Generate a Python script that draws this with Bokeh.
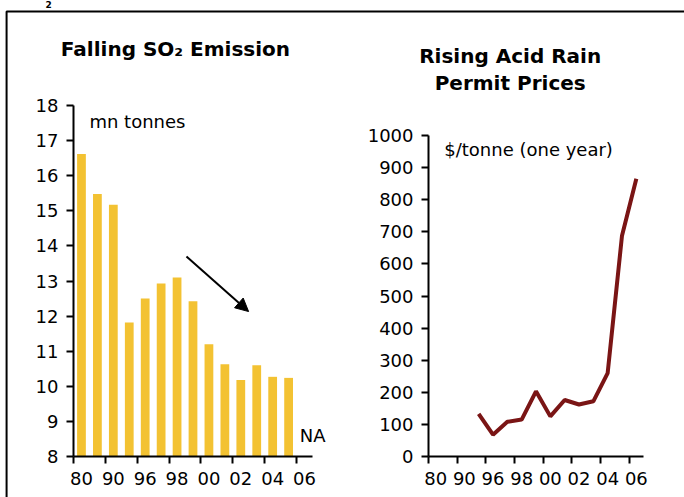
from bokeh.plotting import figure
from bokeh.models import (Range1d, FixedTicker, Label, Arrow, NormalHead, BoxAnnotation, LinearAxis)
from bokeh.embed import file_html
from bokeh.resources import INLINE

# ---- data ----
years = ["80", "85", "90", "95", "96", "97", "98", "99", "00", "01", "02", "03", "04", "05", "06"]
so2_mn_tonnes = [16.62, 15.48, 15.17, 11.82, 12.5, 12.93, 13.1, 12.42, 11.2, 10.63, 10.18, 10.6, 10.27, 10.24, None]
price_years = ["95", "96", "97", "98", "99", "00", "01", "02", "03", "04", "05", "06"]
permit_price = [133, 68, 108, 115, 203, 125, 176, 162, 172, 260, 688, 865]
x_tick_labels = ["80", "90", "96", "98", "00", "02", "04", "06"]
so2_ticks = list(range(8, 19))
price_ticks = list(range(0, 1001, 100))

# ---- layout constants (pixels on the 684x497 canvas) ----
W, H = 684, 497
FONT = "DejaVu Sans"
BAR = "#F3C232"
LINE = "#7A1515"
TICK_FS = "18px"
LAB_FS = "18px"
TITLE_FS = "20px"

n = len(years)


def xrng(px0, px1, d0, d1):
    u = (d1 - d0) / (px1 - px0)
    return Range1d(d0 - px0 * u, d1 + (W - px1) * u)


def yrng(py_bottom, py_top, d0, d1):
    # py measured from the top of the canvas; d0 sits at py_bottom, d1 at py_top
    u = (d1 - d0) / (py_bottom - py_top)
    return Range1d(d0 - (H - py_bottom) * u, d1 + py_top * u)


# left panel: x 73..312, y 8 at 456 .. 18 at 105
L_x = xrng(73, 312, 0, n)
L_y = yrng(456, 105, 8, 18)
# right panel: x 428..643, y 0 at 456 .. 1000 at 135
R_x = xrng(428, 643, 0, n)
R_y = yrng(456, 135, 0, 1000)

p = figure(width=W, height=H, output_backend="svg", toolbar_location=None,
           x_range=L_x, y_range=L_y, x_axis_location=None, y_axis_location=None,
           min_border=0)
p.extra_x_ranges = {"rx": R_x}
p.extra_y_ranges = {"ry": R_y}
p.outline_line_color = None
p.xgrid.grid_line_color = None
p.ygrid.grid_line_color = None
p.background_fill_color = "white"
p.border_fill_color = "white"

label_pos = [i + 0.5 for i in range(0, n, 2)]
edge_pos = [i for i in range(0, n, 2)]


def x_axis(**kw):
    ax = LinearAxis(bounds=(0, n), **kw)
    ax.ticker = FixedTicker(ticks=label_pos, minor_ticks=edge_pos)
    ax.major_label_overrides = {pos: lab for pos, lab in zip(label_pos, x_tick_labels)}
    ax.axis_line_width = 2
    ax.major_tick_line_color = None
    ax.major_tick_out = 7
    ax.major_tick_in = 0
    ax.minor_tick_line_color = "black"
    ax.minor_tick_line_width = 2
    ax.minor_tick_out = 7
    ax.minor_tick_in = 0
    ax.major_label_standoff = 8
    ax.major_label_text_font = FONT
    ax.major_label_text_font_size = TICK_FS
    ax.major_label_text_color = "black"
    return ax


def y_axis(ticks, bounds, **kw):
    ax = LinearAxis(bounds=bounds, **kw)
    ax.ticker = FixedTicker(ticks=ticks)
    ax.axis_line_width = 2
    ax.major_tick_line_width = 2
    ax.major_tick_out = 7
    ax.major_tick_in = 0
    ax.minor_tick_line_color = None
    ax.major_label_standoff = 8
    ax.major_label_text_font = FONT
    ax.major_label_text_font_size = TICK_FS
    ax.major_label_text_color = "black"
    return ax


def label(**kw):
    kw.setdefault("text_font", FONT)
    kw.setdefault("text_color", "black")
    return Label(**kw)


# ---- left: SO2 emission bars ----
p.add_layout(y_axis(so2_ticks, (8, 18), fixed_location=0), "left")
p.add_layout(x_axis(fixed_location=8), "below")
xs = [i + 0.5 for i in range(n) if so2_mn_tonnes[i] is not None]
tops = [v for v in so2_mn_tonnes if v is not None]
p.vbar(x=xs, top=tops, bottom=8, width=0.55, fill_color=BAR, line_color=None)

p.add_layout(label(x=6.4, y=19.62, text="Falling SO\u2082 Emission",
                   text_font_size=TITLE_FS, text_font_style="bold", text_align="center",
                   text_baseline="middle"))
p.add_layout(label(x=1.0, y=17.55, text="mn tonnes", text_font_size=LAB_FS,
                   text_baseline="middle"))
p.add_layout(label(x=14.2, y=8.6, text="NA", text_font_size=LAB_FS,
                   text_baseline="middle"))
p.add_layout(Arrow(end=NormalHead(size=13, fill_color="black", line_color="black"),
                   x_start=7.09, y_start=13.70, x_end=10.99, y_end=12.13,
                   line_width=2, line_color="black"))

# ---- right: permit prices ----
p.add_layout(y_axis(price_ticks, (0, 1000), fixed_location=0, x_range_name="rx", y_range_name="ry"), "left")
p.add_layout(x_axis(fixed_location=0, x_range_name="rx", y_range_name="ry"), "below")
px = [years.index(y) + 0.5 for y in price_years]
p.line(x=px, y=permit_price, line_color=LINE, line_width=4, x_range_name="rx", y_range_name="ry")

for txt, yy in (("Rising Acid Rain", 1249), ("Permit Prices", 1165)):
    p.add_layout(label(x=5.7, y=yy, text=txt, text_font_size=TITLE_FS,
                       text_font_style="bold", text_align="center", text_baseline="middle",
                       x_range_name="rx", y_range_name="ry"))
p.add_layout(label(x=1.1, y=956, text="$/tonne (one year)",
                   text_font_size=LAB_FS, text_baseline="middle",
                   x_range_name="rx", y_range_name="ry"))

# ---- frame around the panels (top and left edges visible) ----
p.add_layout(BoxAnnotation(left=-4.2, top=20.68, right=60, bottom=0,
                           fill_color=None, fill_alpha=0, line_color="black",
                           line_alpha=1, line_width=2))
# subscript remnant of a heading above the frame
p.add_layout(label(x=-1.76, y=20.99, text="2", text_font_size="9px",
                   text_font_style="bold", text_baseline="top"))

open("out.html", "w").write(file_html(p, INLINE))
